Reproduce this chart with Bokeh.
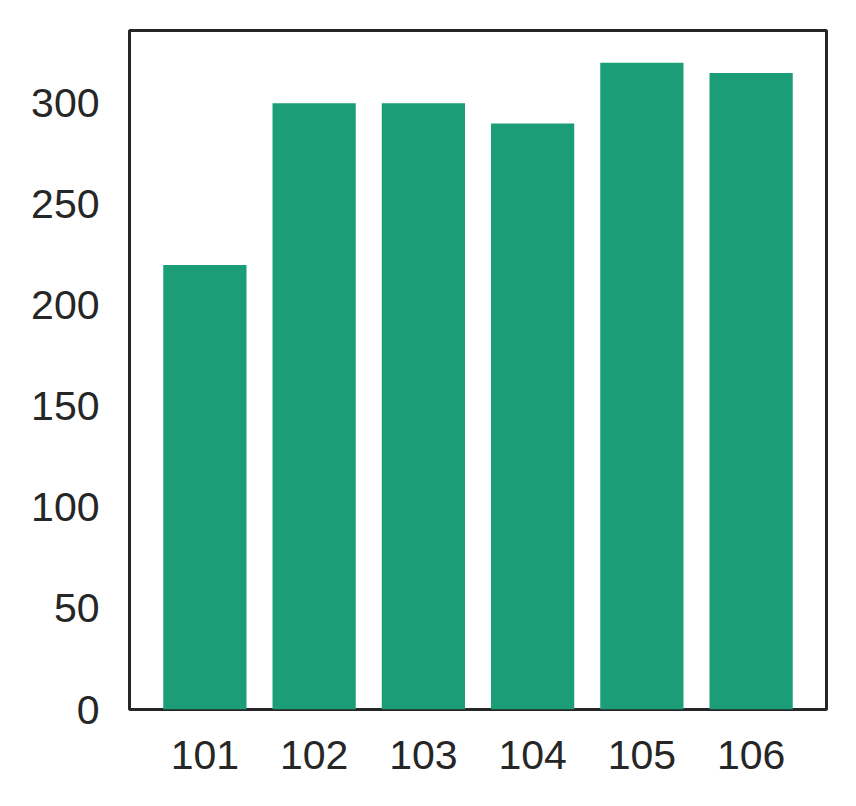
from bokeh.plotting import figure
from bokeh.models import FixedTicker, Range1d
from bokeh.embed import file_html
from bokeh.resources import INLINE

categories = ["101", "102", "103", "104", "105", "106"]
values = [220, 300, 300, 290, 320, 315]
y_ticks = [0, 50, 100, 150, 200, 250, 300]

xs = list(range(len(categories)))

p = figure(
    output_backend="svg", toolbar_location=None,
    frame_width=697, frame_height=679,
    min_border_left=129, min_border_right=20, min_border_top=30, min_border_bottom=90,
    x_range=Range1d(-0.69, len(categories) - 1 + 0.69),
    y_range=Range1d(0, 336),
)
p.vbar(x=xs, top=values, width=0.762, fill_color="#1b9e77", line_color=None)

p.xgrid.visible = False
p.ygrid.visible = False
p.background_fill_color = "white"
p.border_fill_color = "white"
p.outline_line_color = "#262626"
p.outline_line_width = 3

p.xaxis.ticker = FixedTicker(ticks=xs)
p.xaxis.major_label_overrides = {i: c for i, c in enumerate(categories)}
p.yaxis.ticker = FixedTicker(ticks=y_ticks)

for ax in (p.xaxis, p.yaxis):
    ax.axis_line_color = None
    ax.major_tick_line_color = None
    ax.minor_tick_line_color = None
    ax.major_tick_in = 0
    ax.major_tick_out = 0
    ax.major_label_text_font = "Liberation Sans"
    ax.major_label_text_font_size = "41px"
    ax.major_label_text_color = "#262626"
p.yaxis.major_label_standoff = 30
p.xaxis.major_label_standoff = 31

open("out.html", "w").write(file_html(p, INLINE))
